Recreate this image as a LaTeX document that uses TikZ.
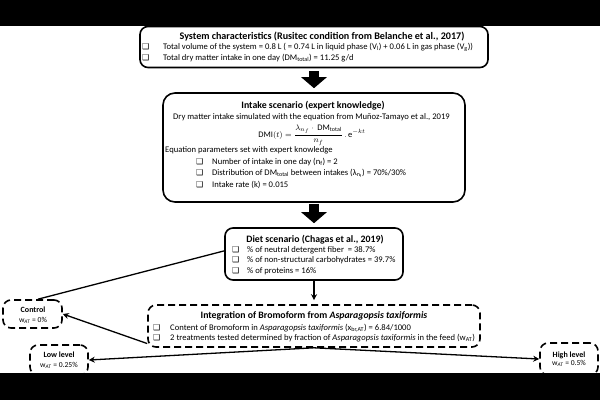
\documentclass[tikz,border=0pt]{standalone}
\usepackage{fontspec}
\setmainfont{Carlito}
\newfontfamily\symfont{DejaVu Sans}
\usetikzlibrary{arrows.meta}
\newcommand{\bxsym}{{\symfont\fontsize{8}{8}\selectfont ❑}}
\begin{document}
\begin{tikzpicture}[x=1pt,y=-1pt,
  box/.style={draw, line width=1.6pt, rounded corners=8pt, inner sep=0pt},
  dbox/.style={box, dash pattern=on 7pt off 4pt},
  txt/.style={inner sep=0pt, anchor=base west, font=\fontsize{8.6}{9}\selectfont},
  ttl/.style={inner sep=0pt, anchor=base, font=\fontsize{9.8}{9}\selectfont\bfseries},
  sttl/.style={inner sep=0pt, anchor=base, font=\fontsize{8}{9}\selectfont\bfseries},
  ctr/.style={inner sep=0pt, anchor=base, font=\fontsize{7.6}{9}\selectfont},
  bul/.style={inner sep=0pt, anchor=base west},
  blockarrow/.style={line width=10pt, -{Triangle[width=25pt,length=11pt]}},
  thin arrow/.style={line width=1.3pt, -{Stealth[width=6pt,length=6pt]}},
  plain line/.style={line width=1.3pt}
]
\useasboundingbox (0,0) rectangle (600,400);
\fill[white] (0,0) rectangle (600,400);

% Box 1
\node[box, minimum width=348pt, minimum height=41pt] (b1) at (314,47) {};
\node[ttl, font=\fontsize{10.1}{9}\selectfont\bfseries] (b1t) at (322,39) {System characteristics (Rusitec condition from Belanche et al., 2017)};
\node[bul] (b1b1) at (142,49.5) {\bxsym};
\node[txt] (b1l1) at (163,49.5) {Total volume of the system = 0.8 L ( = 0.74 L in liquid phase (V\textsubscript{l}) + 0.06 L in gas phase (V\textsubscript{g}))};
\node[bul] (b1b2) at (142,60) {\bxsym};
\node[txt] (b1l2) at (163,60) {Total dry matter intake in one day (DM\textsubscript{total}) = 11.25 g/d};

% Box 2
\node[box, rounded corners=12pt, minimum width=302pt, minimum height=109pt] (b2) at (314,147.5) {};
\node[ttl] (b2t) at (313,108) {Intake scenario (expert knowledge)};
\node[txt] (b2l0) at (173,119) {Dry matter intake simulated with the equation from Muñoz-Tamayo et al., 2019};
\node[inner sep=0pt, anchor=base, font=\fontsize{8.5}{9}\selectfont] (eq) at (312,137)
  {$\displaystyle\mathrm{DMI}(t)=\frac{\lambda_{n_f}\cdot\,\mathrm{DM}_{\mathrm{total}}}{n_f}\,.\,\mathrm{e}^{-kt}$};
\node[txt] (b2l1) at (165,152) {Equation parameters set with expert knowledge};
\node[bul] (b2b2) at (196,164) {\bxsym};
\node[txt] (b2l2) at (212,164) {Number of intake in one day (n\textsubscript{f}) = 2};
\node[bul] (b2b3) at (196,175.5) {\bxsym};
\node[txt] (b2l3) at (212,175.5) {Distribution of DM\textsubscript{total} between intakes (λ\textsubscript{n\textsubscript{f}}) = 70\%/30\%};
\node[bul] (b2b4) at (196,187) {\bxsym};
\node[txt] (b2l4) at (212,187) {Intake rate (k) = 0.015};

% Box 3
\node[box, minimum width=178pt, minimum height=52pt] (b3) at (314,254) {};
\node[ttl] (b3t) at (315,242) {Diet scenario (Chagas et al., 2019)};
\node[bul] (b3b1) at (232,252) {\bxsym};
\node[txt] (b3l1) at (247,252) {\% of neutral detergent fiber\ \ = 38.7\%};
\node[bul] (b3b2) at (232,262.5) {\bxsym};
\node[txt] (b3l2) at (247,262.5) {\% of non-structural carbohydrates = 39.7\%};
\node[bul] (b3b3) at (232,273) {\bxsym};
\node[txt] (b3l3) at (247,273) {\% of proteins = 16\%};

% Box 4
\node[dbox, minimum width=332pt, minimum height=42pt] (b4) at (314,326) {};
\node[ttl] (b4t) at (314,318.5) {Integration of Bromoform from \textit{Asparagopsis taxiformis}};
\node[bul] (b4b1) at (153,330.5) {\bxsym};
\node[txt] (b4l1) at (170,330.5) {Content of Bromoform in \textit{Asparagopsis taxiformis} (x\textsubscript{br,AT}) = 6.84/1000};
\node[bul] (b4b2) at (153,340.5) {\bxsym};
\node[txt] (b4l2) at (170,340.5) {2 treatments tested determined by fraction of \textit{Asparagopsis taxiformis} in the feed (w\textsubscript{AT})};

% Control / low / high
\node[dbox, minimum width=59pt, minimum height=28pt] (ctrl) at (32.5,314) {};
\node[sttl] (ctrlt) at (33,312) {Control};
\node[ctr] (ctrlw) at (33,322) {w\textsubscript{\textit{AT}} = 0\%};
\node[dbox, minimum width=58pt, minimum height=30pt] (low) at (59,360) {};
\node[sttl] (lowt) at (59,357.5) {Low level};
\node[ctr] (loww) at (59,367) {w\textsubscript{\textit{AT}} = 0.25\%};
\node[dbox, minimum width=58pt, minimum height=32pt] (high) at (569,359) {};
\node[sttl] (hight) at (569,357) {High level};
\node[ctr] (highw) at (569,365.5) {w\textsubscript{\textit{AT}} = 0.5\%};

% Connectors
\draw[blockarrow, shorten <=3pt, shorten >=4pt] (b1.south) -- (b2.north);
\draw[blockarrow, shorten <=1pt, shorten >=4pt] (b2.south) -- (b3.north);
\draw[thin arrow, shorten >=4pt] (b3.south) -- (b4.north);
\draw[plain line] (b3.178) -- (ctrl.70);
\draw[thin arrow] (b4.186) -- (ctrl.east);
\draw[thin arrow] (b4.south) -- (low.east);
\draw[thin arrow] (b4.south) -- (high.west);

% Black bars
\fill[black] (0,0) rectangle (600,26);
\fill[black] (0,373) rectangle (600,400);
\end{tikzpicture}
\end{document}
